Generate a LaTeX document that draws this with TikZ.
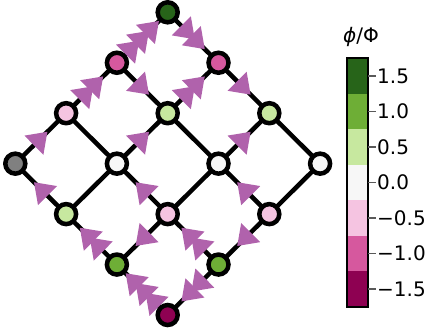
\documentclass[tikz,border=0pt]{standalone}
\usepackage{fontspec}
\setmainfont{DejaVu Sans}
\usetikzlibrary{decorations.markings,backgrounds}
\definecolor{pA}{RGB}{142,1,82}
\definecolor{pB}{RGB}{214,88,158}
\definecolor{pC}{RGB}{245,196,225}
\definecolor{pD}{RGB}{247,247,247}
\definecolor{pE}{RGB}{199,232,159}
\definecolor{pF}{RGB}{110,174,54}
\definecolor{pG}{RGB}{39,100,25}
\definecolor{gnd}{RGB}{128,128,128}
\definecolor{arrowc}{RGB}{176,98,172}
\newcommand\flowtri[1]{\fill[arrowc] ({#1+9.5},0) -- ({#1-9.5},13.5) -- ({#1-9.5},-13.5) -- cycle;}
\begin{document}
\begin{tikzpicture}[x=1pt,y=1pt,
  site/.style={circle,draw=black,line width=4.5pt,minimum size=20pt,inner sep=0pt},
  bond/.style={line width=4.5pt,draw=black},
  flowone/.style={decoration={markings,mark=at position 0.5 with {\flowtri{0}}},decorate},
  flowtwo/.style={decoration={markings,mark=at position 0.5 with {\flowtri{-7}\flowtri{7}}},decorate},
  flowthree/.style={decoration={markings,mark=at position 0.5 with {\flowtri{-14}\flowtri{0}\flowtri{14}}},decorate},
  ticklabel/.style={anchor=base west,inner sep=0pt,font=\fontsize{20}{24}\selectfont},
]
\useasboundingbox (0,0) rectangle (430,333);
% sites
\foreach \i/\j/\c in {0/0/pG,1/0/pB,0/1/pB,2/0/pC,1/1/pE,0/2/pE,3/0/gnd,2/1/pD,1/2/pD,0/3/pD,3/1/pE,2/2/pC,1/3/pC,3/2/pF,2/3/pF,3/3/pA}
  \node[site,fill=\c] (n\i\j) at ({167.7+(\j-\i)*50.8},{320.7-(\i+\j)*50.45}) {};
% bonds
\begin{scope}[on background layer]
\foreach \i in {0,...,3}{
  \foreach \j [evaluate=\j as \k using int(\j+1)] in {0,1,2}{
    \draw[bond] (n\i\j.center) -- (n\i\k.center);
    \draw[bond] (n\j\i.center) -- (n\k\i.center);
  }
}
\end{scope}
% flows
\path[flowthree] (n10.center) -- (n00.center);
\path[flowtwo]   (n00.center) -- (n01.center);
\path[flowtwo]   (n20.center) -- (n10.center);
\path[flowone]   (n10.center) -- (n11.center);
\path[flowtwo]   (n11.center) -- (n01.center);
\path[flowone]   (n01.center) -- (n02.center);
\path[flowone]   (n30.center) -- (n20.center);
\path[flowone]   (n21.center) -- (n11.center);
\path[flowone]   (n12.center) -- (n02.center);
\path[flowone]   (n31.center) -- (n30.center);
\path[flowone]   (n22.center) -- (n21.center);
\path[flowone]   (n13.center) -- (n12.center);
\path[flowtwo]   (n32.center) -- (n31.center);
\path[flowone]   (n22.center) -- (n32.center);
\path[flowtwo]   (n23.center) -- (n22.center);
\path[flowone]   (n13.center) -- (n23.center);
\path[flowthree] (n33.center) -- (n32.center);
\path[flowtwo]   (n23.center) -- (n33.center);
% colorbar
\foreach \k/\c in {0/pA,1/pB,2/pC,3/pD,4/pE,5/pF,6/pG}
  \fill[\c] (346.7,{26.3+\k*35.486}) rectangle (368.3,{26.3+(\k+1)*35.486});
\draw[line width=1.8pt] (346.7,26.3) rectangle (368.3,274.7);
\foreach \k/\t in {0/{−1.5},1/{−1.0},2/{−0.5},3/{0.0},4/{0.5},5/{1.0},6/{1.5}}{
  \draw[line width=1.4pt,black!65] (368.3,{26.3+(\k+0.5)*35.486}) -- (375.5,{26.3+(\k+0.5)*35.486});
  \node[ticklabel] (tl\k) at (377,{26.3+(\k+0.5)*35.486-7.3}) {\t};
}
\node[anchor=base,inner sep=0pt,font=\fontsize{20}{24}\selectfont] (cblabel) at (361,291) {{\itshape ϕ}/Φ};
\end{tikzpicture}
\end{document}
